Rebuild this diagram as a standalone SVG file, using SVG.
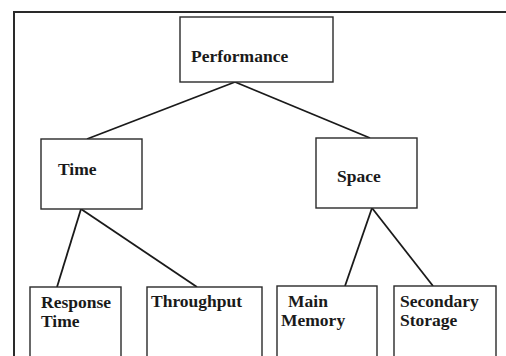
<svg xmlns="http://www.w3.org/2000/svg" width="506" height="356" viewBox="0 0 506 356">
  <style>
    .box { fill: #ffffff; stroke: #2a2a2a; stroke-width: 1.4; }
    .frame { fill: none; stroke: #2a2a2a; stroke-width: 2; }
    .edge { stroke: #1a1a1a; stroke-width: 1.8; fill: none; }
    .label { font-family: "Liberation Serif", "Times New Roman", serif; font-weight: bold; font-size: 17.5px; fill: #1a1a1a; }
  </style>
  <rect width="506" height="356" fill="#ffffff"/>
  <!-- outer frame, open to the right and bottom -->
  <path class="frame" d="M14,370 L14,12 L520,12"/>

  <g id="connectors">
    <line class="edge" x1="235" y1="82" x2="87" y2="139"/>
    <line class="edge" x1="235" y1="82" x2="370" y2="138"/>
    <line class="edge" x1="81" y1="209" x2="57" y2="287"/>
    <line class="edge" x1="81" y1="209" x2="197" y2="287"/>
    <line class="edge" x1="372" y1="208" x2="345" y2="286"/>
    <line class="edge" x1="372" y1="208" x2="433" y2="286"/>
  </g>

  <g id="performance">
    <rect class="box" x="180" y="17" width="153" height="65"/>
    <text class="label" x="191" y="62">Performance</text>
  </g>
  <g id="time">
    <rect class="box" x="41" y="139" width="101" height="70"/>
    <text class="label" x="58" y="175">Time</text>
  </g>
  <g id="space">
    <rect class="box" x="316" y="138" width="101" height="70"/>
    <text class="label" x="337" y="182">Space</text>
  </g>
  <g id="response-time">
    <rect class="box" x="30" y="287" width="91" height="90"/>
    <text class="label" x="41" y="308">Response</text>
    <text class="label" x="41" y="327">Time</text>
  </g>
  <g id="throughput">
    <rect class="box" x="147" y="287" width="115" height="90"/>
    <text class="label" x="151" y="307">Throughput</text>
  </g>
  <g id="main-memory">
    <rect class="box" x="277" y="286" width="100" height="90"/>
    <text class="label" x="288" y="307">Main</text>
    <text class="label" x="281" y="326">Memory</text>
  </g>
  <g id="secondary-storage">
    <rect class="box" x="394" y="286" width="102" height="90"/>
    <text class="label" x="400" y="307">Secondary</text>
    <text class="label" x="400" y="326">Storage</text>
  </g>
</svg>
